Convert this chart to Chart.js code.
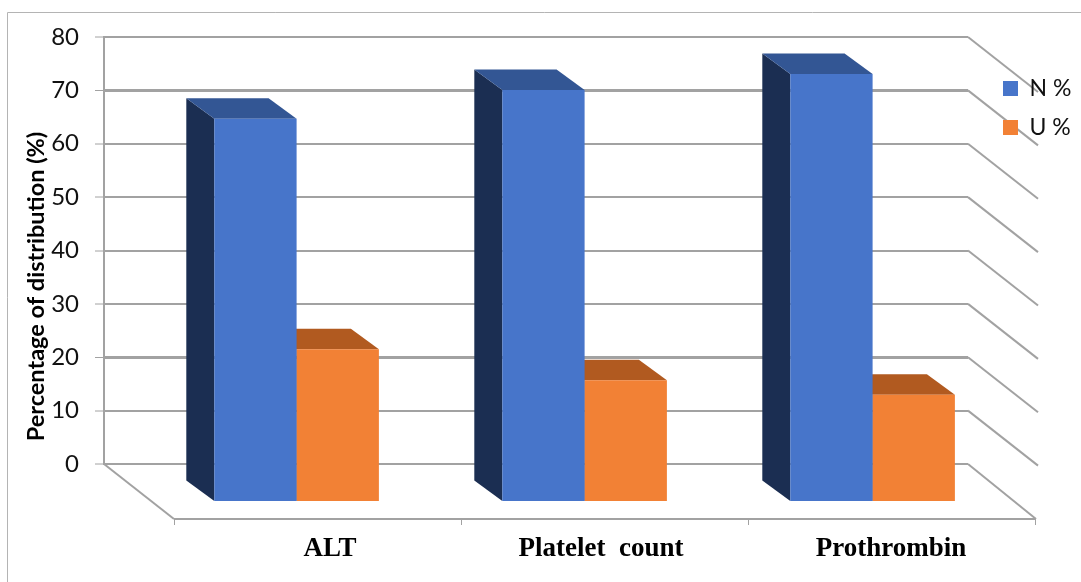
<!DOCTYPE html>
<html lang="en">
<head>
  <meta charset="UTF-8">
  <title>Percentage of distribution</title>
  <script src="https://cdn.jsdelivr.net/npm/chart.js"></script>
  <style>
    body { margin: 0; background: #fff; }
    canvas { display: block; }
  </style>
</head>
<body>
  <canvas id="distChart" width="1081" height="582"></canvas>

  <script>
    const categories = ['ALT', 'Platelet  count', 'Prothrombin'];
    const nValues = [71.8, 77.2, 80.2];
    const uValues = [28.6, 22.8, 20.1];
    const yTicks = [0, 10, 20, 30, 40, 50, 60, 70, 80];

    const gridGray = '#a2a2a2';
    const depth = { x: -28, y: -20.5 };     // bar side faces
    const front = { x: 48.6, y: 38 };       // bars stand in front of the back wall
    const floor = { x: 70, y: 55 };         // wall to front edge of the floor
    const labelShift = [82, 65, 67];        // category labels are not centred on the bars

    function line(ctx, x1, y1, x2, y2) {
      ctx.beginPath();
      ctx.moveTo(x1, y1);
      ctx.lineTo(x2, y2);
      ctx.stroke();
    }

    function poly(ctx, color, pts) {
      ctx.fillStyle = color;
      ctx.beginPath();
      pts.forEach((p, i) => i ? ctx.lineTo(p[0], p[1]) : ctx.moveTo(p[0], p[1]));
      ctx.closePath();
      ctx.fill();
    }

    const fake3d = {
      id: 'fake3d',
      beforeDraw(chart) {
        const ctx = chart.ctx;
        const { x: xs, y: ys } = chart.scales;
        const { left, right } = chart.chartArea;

        // outer frame
        ctx.save();
        ctx.strokeStyle = '#b4b4b4';
        ctx.lineWidth = 1;
        line(ctx, 7.5, 582, 7.5, 12.5);
        line(ctx, 7.5, 12.5, 1081, 12.5);

        // floor and right wall
        ctx.strokeStyle = gridGray;
        ctx.lineWidth = 2;
        const y0 = ys.getPixelForValue(0);
        line(ctx, left, y0, left + floor.x, y0 + floor.y);
        line(ctx, left + floor.x, y0 + floor.y, right + floor.x - 2, y0 + floor.y);
        yTicks.forEach(v => {
          const y = ys.getPixelForValue(v);
          line(ctx, right, y, right + floor.x - (v === 0 ? 2 : 0), y + floor.y);
        });
        ctx.lineWidth = 1;
        const step = (right - left - 3) / categories.length;
        for (let i = 0; i <= categories.length; i++) {
          const x = Math.round(left + floor.x + i * step) + 0.5;
          line(ctx, x, y0 + floor.y, x, y0 + floor.y + 6);
        }
        ctx.restore();

        // legend sits over the right wall
        const legend = chart.legend;
        legend.left = 994 - 7;
        legend.right = 1081;
        legend.top = 61;
        legend.bottom = 300;
        legend.width = legend.right - legend.left;
        legend.height = legend.bottom - legend.top;

        // per-label x position
        xs.getLabelItems().forEach((item, i) => {
          item.options.translation[0] = xs.getPixelForTick(i) + labelShift[i];
        });

        // axis title is lower than the middle of the axis
        if (!ys._titleMoved) {
          const drawTitle = ys.drawTitle;
          ys.drawTitle = function () {
            ctx.save();
            ctx.translate(0, 36);
            drawTitle.call(this);
            ctx.restore();
          };
          ys._titleMoved = true;
        }
      },
      beforeDatasetsDraw(chart) {
        const ctx = chart.ctx;
        ctx.save();
        ctx.translate(front.x, front.y);
        chart.data.datasets.forEach((ds, d) => {
          chart.getDatasetMeta(d).data.forEach(bar => {
            const l = bar.x - bar.width / 2;
            const r = bar.x + bar.width / 2;
            poly(ctx, ds.sideColor, [[l, bar.y], [l, bar.base], [l + depth.x, bar.base + depth.y], [l + depth.x, bar.y + depth.y]]);
            poly(ctx, ds.topColor, [[l, bar.y], [r, bar.y], [r + depth.x, bar.y + depth.y], [l + depth.x, bar.y + depth.y]]);
          });
        });
      },
      afterDatasetsDraw(chart) {
        chart.ctx.restore();
      }
    };

    new Chart(document.getElementById('distChart').getContext('2d'), {
      type: 'bar',
      data: {
        labels: categories,
        datasets: [
          { label: 'N %', data: nValues, backgroundColor: '#4775CA', sideColor: '#1B2E52', topColor: '#335694', clip: false },
          { label: 'U %', data: uValues, backgroundColor: '#F28135', sideColor: '#B15A20', topColor: '#B15A20', clip: false }
        ]
      },
      options: {
        responsive: false,
        animation: false,
        layout: { padding: { top: 37, right: 113, left: 0, bottom: 0 } },
        datasets: { bar: { barPercentage: 1, categoryPercentage: 0.5715 } },
        plugins: {
          tooltip: { enabled: false },
          legend: {
            position: 'chartArea',
            align: 'start',
            labels: {
              boxWidth: 15,
              boxHeight: 15,
              padding: 16,
              color: '#111',
              font: { family: 'Lato', size: 23 }
            }
          }
        },
        scales: {
          x: {
            grid: { display: false },
            border: { display: false },
            afterFit(scale) { scale.height = 118; },
            ticks: {
              padding: 61,
              autoSkip: false,
              maxRotation: 0,
              color: '#000',
              font: { family: 'Liberation Serif', size: 27, weight: 'bold' }
            }
          },
          y: {
            min: 0,
            max: 80,
            afterFit(scale) { scale.width = 104; },
            afterBuildTicks(scale) { scale.ticks = yTicks.map(v => ({ value: v })); },
            border: { color: gridGray, width: 2 },
            grid: {
              color: gridGray,
              lineWidth: c => (c.tick.value === 70 || c.tick.value === 20) ? 3 : 2,
              tickColor: gridGray,
              tickWidth: 1,
              tickLength: 9
            },
            ticks: {
              padding: 16,
              color: '#111',
              font: { family: 'Lato', size: 24 }
            },
            title: {
              display: true,
              text: 'Percentage of distribution (%)',
              color: '#000',
              padding: { top: 22, bottom: 0 },
              font: { family: 'Lato', size: 23.5, weight: 'bold' }
            }
          }
        }
      },
      plugins: [fake3d]
    });
  </script>
</body>
</html>
